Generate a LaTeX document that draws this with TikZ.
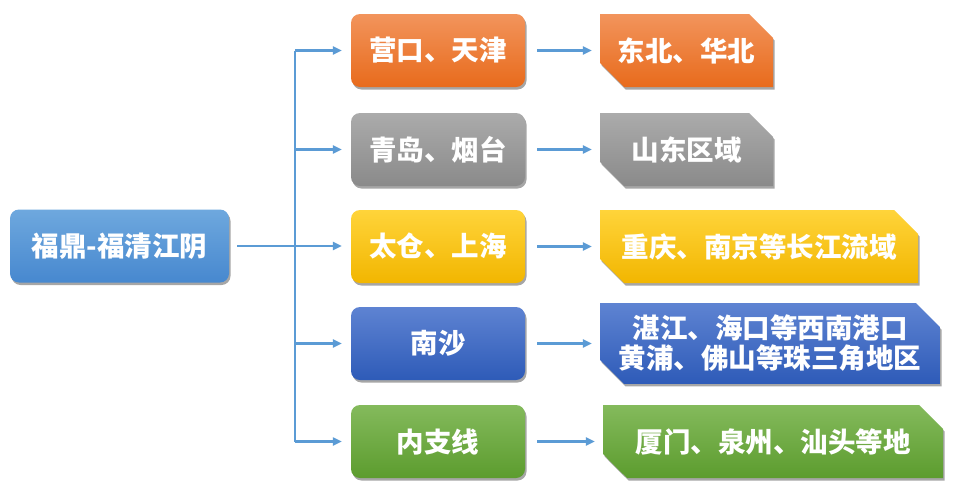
\documentclass[tikz,border=0pt]{standalone}
\usepackage{fontspec}
\newfontfamily\cjk{Noto Sans CJK SC}
\usetikzlibrary{arrows.meta,shapes.misc,shadows}
\definecolor{linec}{HTML}{5B9BD5}
\begin{document}
\begin{tikzpicture}[x=1pt,y=-1pt,
  box/.style={draw=none,inner sep=0pt,minimum height=73pt,text=white,
    font=\cjk\bfseries\fontsize{27.5}{30}\selectfont,align=center,
    drop shadow={shadow xshift=1.5pt,shadow yshift=-2.5pt,opacity=0.35,fill=black}},
  rbox/.style={box,rounded corners=9pt},
  cbox/.style={box,chamfered rectangle,chamfered rectangle corners={north east,south west},
    chamfered rectangle xsep=12pt,chamfered rectangle ysep=12pt},
  orangef/.style={top color=orT,bottom color=orB},
  greyf/.style={top color=grT,bottom color=grB},
  yellowf/.style={top color=yeT,bottom color=yeB},
  bluef/.style={top color=blT,bottom color=blB},
  greenf/.style={top color=gnT,bottom color=gnB},
  leftf/.style={top color=lfT,bottom color=lfB},
  conn/.style={draw=linec,line width=2.2pt},
  arr/.style={conn,-{Triangle[length=9pt,width=8pt]}}
]
\definecolor{orT}{HTML}{F2945C}\definecolor{orB}{HTML}{E86B1C}
\definecolor{grT}{HTML}{ABABAB}\definecolor{grB}{HTML}{8A8A8A}
\definecolor{yeT}{HTML}{FFD43A}\definecolor{yeB}{HTML}{F2B600}
\definecolor{blT}{HTML}{5E83D2}\definecolor{blB}{HTML}{2E5BB8}
\definecolor{gnT}{HTML}{84BA5C}\definecolor{gnB}{HTML}{5C9C2E}
\definecolor{lfT}{HTML}{6EA8DE}\definecolor{lfB}{HTML}{4788CF}
\useasboundingbox[fill=white] (0,0) rectangle (957,496);

\node[rbox,leftf,minimum width=219pt] (L) at (119.5,246) {福鼎-福清江阴};

\node[rbox,orangef,minimum width=174pt] (M1) at (438,50.5) {营口、天津};
\node[rbox,greyf,minimum width=174pt] (M2) at (438,149.5) {青岛、烟台};
\node[rbox,yellowf,minimum width=174pt] (M3) at (438,246.5) {太仓、上海};
\node[rbox,bluef,minimum width=174pt] (M4) at (438,343.5) {南沙};
\node[rbox,greenf,minimum width=174pt] (M5) at (438,441.5) {内支线};

\node[cbox,orangef,minimum width=173pt] (R1) at (686.5,50.5) {东北、华北};
\node[cbox,greyf,minimum width=173pt] (R2) at (686.5,149.5) {山东区域};
\node[cbox,yellowf,minimum width=318pt] (R3) at (759,246.5) {重庆、南京等长江流域};
\node[cbox,bluef,minimum width=340pt] (R4) at (770,343.5) {湛江、海口等西南港口\\黄浦、佛山等珠三角地区};
\node[cbox,greenf,minimum width=340pt] (R5) at (773,441.5) {厦门、泉州、汕头等地};

\coordinate (t1) at (295,50.5);
\coordinate (t2) at (295,149.5);
\coordinate (t3) at (295,246);
\coordinate (t4) at (295,343.5);
\coordinate (t5) at (295,441.5);

\draw[conn,shorten <=8pt] (L.east) -- (t3);
\draw[conn] (t1) -- (t5);
\foreach \i in {1,...,5}{
  \draw[arr,shorten >=9pt] (t\i) -- (M\i.west |- t\i);
  \draw[arr,shorten <=12pt,shorten >=8pt] (M\i.east) -- (R\i.west |- M\i.east);
}
\end{tikzpicture}
\end{document}
